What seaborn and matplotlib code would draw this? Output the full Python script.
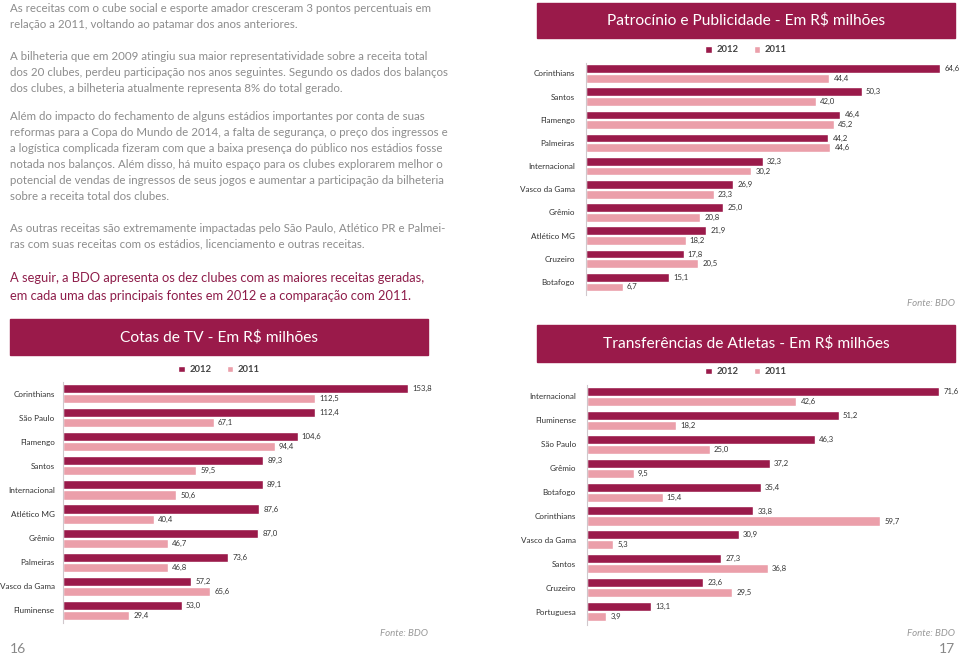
import pandas as pd
import matplotlib.pyplot as plt
import seaborn as sns
from matplotlib.patches import Rectangle

# --- data ---
pat_clubes = ['Corinthians', 'Santos', 'Flamengo', 'Palmeiras', 'Internacional',
              'Vasco da Gama', 'Grêmio', 'Atlético MG', 'Cruzeiro', 'Botafogo']
pat_2012 = [64.6, 50.3, 46.4, 44.2, 32.3, 26.9, 25.0, 21.9, 17.8, 15.1]
pat_2011 = [44.4, 42.0, 45.2, 44.6, 30.2, 23.3, 20.8, 18.2, 20.5, 6.7]

tv_clubes = ['Corinthians', 'São Paulo', 'Flamengo', 'Santos', 'Internacional',
             'Atlético MG', 'Grêmio', 'Palmeiras', 'Vasco da Gama', 'Fluminense']
tv_2012 = [153.8, 112.4, 104.6, 89.3, 89.1, 87.6, 87.0, 73.6, 57.2, 53.0]
tv_2011 = [112.5, 67.1, 94.4, 59.5, 50.6, 40.4, 46.7, 46.8, 65.6, 29.4]

tr_clubes = ['Internacional', 'Fluminense', 'São Paulo', 'Grêmio', 'Botafogo',
             'Corinthians', 'Vasco da Gama', 'Santos', 'Cruzeiro', 'Portuguesa']
tr_2012 = [71.6, 51.2, 46.3, 37.2, 35.4, 33.8, 30.9, 27.3, 23.6, 13.1]
tr_2011 = [42.6, 18.2, 25.0, 9.5, 15.4, 59.7, 5.3, 36.8, 29.5, 3.9]

anos = ['2012', '2011']

paragrafos = [
    ['As receitas com o cube social e esporte amador cresceram 3 pontos percentuais em',
     'relação a 2011, voltando ao patamar dos anos anteriores.'],
    ['A bilheteria que em 2009 atingiu sua maior representatividade sobre a receita total',
     'dos 20 clubes, perdeu participação nos anos seguintes. Segundo os dados dos balanços',
     'dos clubes, a bilheteria atualmente representa 8% do total gerado.'],
    ['Além do impacto do fechamento de alguns estádios importantes por conta de suas',
     'reformas para a Copa do Mundo de 2014, a falta de segurança, o preço dos ingressos e',
     'a logística complicada fizeram com que a baixa presença do público nos estádios fosse',
     'notada nos balanços. Além disso, há muito espaço para os clubes explorarem melhor o',
     'potencial de vendas de ingressos de seus jogos e aumentar a participação da bilheteria',
     'sobre a receita total dos clubes.'],
    ['As outras receitas são extremamente impactadas pelo São Paulo, Atlético PR e Palmei-',
     'ras com suas receitas com os estádios, licenciamento e outras receitas.'],
]
destaque = [
    'A seguir, a BDO apresenta os dez clubes com as maiores receitas geradas,',
    'em cada uma das principais fontes em 2012 e a comparação com 2011.',
]

DARK = '#9a1a4a'
LIGHT = '#eb9faa'
GREY = '#8c8c8c'

sns.set_style('white')
plt.rcParams['font.family'] = ['Lato', 'DejaVu Sans']

W, H = 960, 656
fig = plt.figure(figsize=(W / 100, H / 100), dpi=100)


def px_axes(x, y_top, w, h):
    return fig.add_axes([x / W, 1 - (y_top + h) / H, w / W, h / H])


def banner(x, y, w, h, title):
    fig.patches.append(Rectangle((x / W, 1 - (y + h) / H), w / W, h / H,
                                 transform=fig.transFigure, color=DARK, zorder=0))
    fig.text((x + w / 2) / W, 1 - (y + h / 2) / H, title, color='white',
             fontsize=11.2, ha='center', va='center')


def grafico(ax, clubes, v2012, v2011, xmax, ylim, legend_xy, pad=8):
    df = pd.DataFrame({
        'clube': clubes * 2,
        'valor': v2012 + v2011,
        'ano': ['2012'] * len(clubes) + ['2011'] * len(clubes),
    })
    sns.barplot(data=df, x='valor', y='clube', hue='ano', order=clubes,
                hue_order=anos, palette=[DARK, LIGHT], orient='h', saturation=1,
                width=0.84, gap=0.1, errorbar=None, ax=ax)
    for cont, vals in zip(ax.containers, [v2012, v2011]):
        ax.bar_label(cont, labels=[f'{v:.1f}'.replace('.', ',') for v in vals],
                     padding=3, fontsize=5.6, color='#333333')
    ax.set_xlim(0, xmax)
    ax.set_ylim(*ylim)
    ax.set_xlabel('')
    ax.set_ylabel('')
    ax.set_xticks([])
    ax.tick_params(axis='y', length=0, pad=pad, labelsize=5.9, labelcolor='#333333')
    for s in ['top', 'right', 'bottom']:
        ax.spines[s].set_visible(False)
    ax.spines['left'].set_color('#d0c8cc')
    ax.spines['left'].set_linewidth(0.8)
    ax.patch.set_alpha(0)
    h, l = ax.get_legend_handles_labels()
    ax.legend(h, l, loc='center', bbox_to_anchor=(legend_xy[0] / W, 1 - legend_xy[1] / H),
              bbox_transform=fig.transFigure, ncol=2, frameon=False,
              handlelength=0.7, handleheight=0.7, columnspacing=1.6,
              handletextpad=0.5, prop={'size': 6.8, 'weight': 'bold'},
              labelcolor='#444444')


# --- texto da página esquerda ---
inicio = [9, 56, 117, 228]
for y0, par in zip(inicio, paragrafos):
    for i, linha in enumerate(par):
        fig.text(10 / W, 1 - (y0 + 16 * i) / H, linha, fontsize=8.3, color=GREY,
                 va='center')
for i, linha in enumerate(destaque):
    fig.text(10 / W, 1 - (278 + 18 * i) / H, linha, fontsize=9.3, color='#8e1d4a',
             va='center')

# --- Patrocínio e Publicidade ---
banner(537, 3, 418, 35, 'Patrocínio e Publicidade - Em R$ milhões')
ax1 = px_axes(586, 63, 66 * 5.48, 232)
grafico(ax1, pat_clubes, pat_2012, pat_2011, 66, (9.56, -0.45), (746, 50))
fig.text(955 / W, 1 - 304 / H, 'Fonte: BDO', fontsize=7, color='#999999',
         style='italic', ha='right', va='center')

# --- Cotas de TV ---
banner(10, 319, 418, 36, 'Cotas de TV - Em R$ milhões')
ax2 = px_axes(63, 382, 160 * 2.243, 241)
grafico(ax2, tv_clubes, tv_2012, tv_2011, 160, (9.52, -0.48), (219, 370), pad=6)
fig.text(428 / W, 1 - 633 / H, 'Fonte: BDO', fontsize=7, color='#999999',
         style='italic', ha='right', va='center')

# --- Transferências de Atletas ---
banner(537, 325, 418, 37, 'Transferências de Atletas - Em R$ milhões')
ax3 = px_axes(587, 385, 74 * 4.916, 240)
grafico(ax3, tr_clubes, tr_2012, tr_2011, 74, (9.56, -0.48), (746, 372))
fig.text(955 / W, 1 - 634 / H, 'Fonte: BDO', fontsize=7, color='#999999',
         style='italic', ha='right', va='center')

# números de página
fig.text(10 / W, 1 - 649 / H, '16', fontsize=10, color='#888888', va='center')
fig.text(955 / W, 1 - 649 / H, '17', fontsize=10, color='#888888', va='center', ha='right')

fig.savefig('out.png', dpi=100)
